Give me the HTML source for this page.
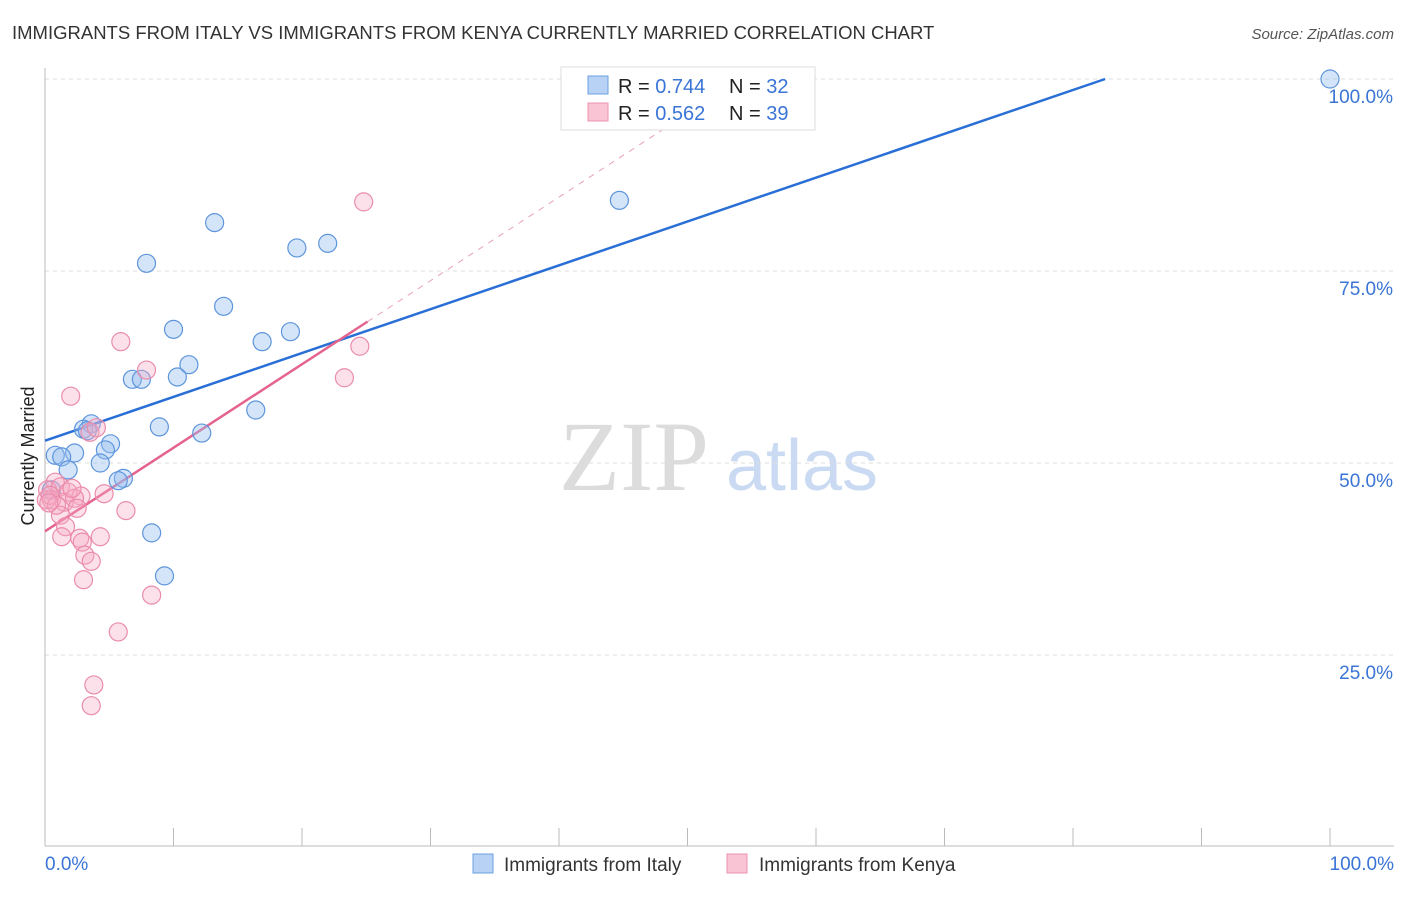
<!DOCTYPE html>
<html><head><meta charset="utf-8"><style>
body{margin:0;background:#fff;font-family:"Liberation Sans",sans-serif;}
</style></head><body>
<svg id="chart" width="1406" height="892" font-family="Liberation Sans, sans-serif">
<text x="12" y="39" font-size="18.5" fill="#333">IMMIGRANTS FROM ITALY VS IMMIGRANTS FROM KENYA CURRENTLY MARRIED CORRELATION CHART</text>
<text x="1394" y="39" font-size="15" fill="#555" font-style="italic" text-anchor="end">Source: ZipAtlas.com</text>
<text x="34" y="456" font-size="18" fill="#222" text-anchor="middle" transform="rotate(-90 34 456)">Currently Married</text>
<g>
<text x="634" y="490" font-size="100" fill="#dcdcdc" style="font-family:'Liberation Serif',serif" text-anchor="middle">ZIP</text>
<text x="802" y="490" font-size="72" fill="#c9daf2" text-anchor="middle">atlas</text>
</g>
<g id="grid"></g><g id="axes"></g><g id="lines"></g><g id="pts"></g>
<g>
<rect x="561" y="67" width="254" height="63" fill="#fff" stroke="#ddd"/>
<rect x="588" y="76" width="20" height="18" fill="#b7d2f5" stroke="#6b9fde"/>
<rect x="588" y="103" width="20" height="18" fill="#f9c5d4" stroke="#ec92b0"/>
<text x="618" y="93" font-size="20" fill="#222">R = <tspan fill="#3a74d6">0.744</tspan></text>
<text x="729" y="93" font-size="20" fill="#222">N = <tspan fill="#3a74d6">32</tspan></text>
<text x="618" y="120" font-size="20" fill="#222">R = <tspan fill="#3a74d6">0.562</tspan></text>
<text x="729" y="120" font-size="20" fill="#222">N = <tspan fill="#3a74d6">39</tspan></text>
</g>
<g>
<rect x="473" y="854" width="20" height="19" fill="#b7d2f5" stroke="#6b9fde"/>
<text x="504" y="871" font-size="19" fill="#333">Immigrants from Italy</text>
<rect x="727" y="854" width="20" height="19" fill="#f9c5d4" stroke="#ec92b0"/>
<text x="759" y="871" font-size="19" fill="#333">Immigrants from Kenya</text>
</g>
</svg>
<script>
const blueX=[100,44.7,13.2,22.0,19.6,7.9,13.9,10.0,19.1,16.9,11.2,10.3,6.8,7.5,16.4,3.6,3.0,8.9,3.3,12.2,5.1,4.7,2.3,0.8,1.3,4.3,1.8,6.1,5.7,8.3,9.3,0.5];
const blueY=[100,84.2,81.3,78.6,78.0,76.0,70.4,67.4,67.1,65.8,62.8,61.2,60.9,60.9,56.9,55.1,54.4,54.7,54.2,53.9,52.5,51.7,51.3,51.0,50.8,50.0,49.1,48.0,47.7,40.9,35.3,46.5];
const pinkX=[24.8,24.5,5.9,7.9,23.3,2.0,3.5,4.0,0.8,0.2,1.2,1.8,2.8,0.5,0.1,1.5,2.3,2.5,1.2,6.3,1.6,1.3,2.7,4.3,2.9,3.1,3.6,3.0,8.3,5.7,3.8,3.6,0.4,0.9,2.1,4.6,0.3];
const pinkY=[84.0,65.2,65.8,62.1,61.1,58.7,54.0,54.6,47.5,46.5,46.9,46.2,45.7,45.2,45.2,44.9,45.4,44.1,43.2,43.8,41.7,40.4,40.2,40.4,39.7,38.0,37.2,34.8,32.8,28.0,21.1,18.4,45.8,44.5,46.7,46.0,44.8];
const blueTrend=[52.9,0.5709];   // intercept, slope
const pinkTrend=[41.1,1.088];
const yTicks=[25,50,75,100];
const yTickLabels=["25.0%","50.0%","75.0%","100.0%"];
const xTickCount=10;
const X=v=>45+v*12.85, Y=v=>847-v*7.68;
const NS="http://www.w3.org/2000/svg";
function mk(tag,attrs,parent){const e=document.createElementNS(NS,tag);for(const k in attrs)e.setAttribute(k,attrs[k]);document.getElementById(parent).appendChild(e);return e;}
yTicks.forEach((t,i)=>{
 const g=mk('line',{x1:45,x2:1394,y1:Y(t),y2:Y(t),stroke:'#ddd','stroke-dasharray':'4,4'},'grid');
 
 
 const l=mk('text',{x:1393,y:Y(t)+24,'font-size':19,fill:'#3a74d6','text-anchor':'end'},'grid');
 l.textContent=yTickLabels[i];
 
 
});
mk('line',{x1:45,x2:45,y1:68,y2:846,stroke:'#bbb'},'axes');
const xa=mk('line',{x1:45,x2:1394,y1:846,y2:846,stroke:'#bbb'},'axes');


for(let i=0;i<=xTickCount;i++){mk('line',{x1:X(i*10),x2:X(i*10),y1:828,y2:846,stroke:'#bbb'},'axes');}
let a=mk('text',{x:45,y:870,'font-size':19,fill:'#3a74d6'},'axes');a.textContent='0.0%';


a=mk('text',{x:1394,y:870,'font-size':19,fill:'#3a74d6','text-anchor':'end'},'axes');a.textContent='100.0%';


let bx2=(100-blueTrend[0])/blueTrend[1];
let L=mk('line',{x1:X(0),y1:Y(blueTrend[0]),x2:X(bx2),y2:Y(100),stroke:'#2a6fd6','stroke-width':2.5},'lines');


let px2=25.1;
L=mk('line',{x1:X(px2),y1:Y(pinkTrend[0]+pinkTrend[1]*px2),x2:X((100-pinkTrend[0])/pinkTrend[1]),y2:Y(100),stroke:'#e8a0b8','stroke-width':1,'stroke-dasharray':'6,6'},'lines');


L=mk('line',{x1:X(0),y1:Y(pinkTrend[0]),x2:X(px2),y2:Y(pinkTrend[0]+pinkTrend[1]*px2),stroke:'#e4648e','stroke-width':2.5},'lines');


blueX.forEach((v,i)=>{const c=mk('circle',{cx:X(v),cy:Y(blueY[i]),r:9,fill:'rgba(150,190,240,0.4)',stroke:'#5d95dc','stroke-width':1.2},'pts');
 
 });
pinkX.forEach((v,i)=>{const c=mk('circle',{cx:X(v),cy:Y(pinkY[i]),r:9,fill:'rgba(245,170,195,0.35)',stroke:'#ea8cab','stroke-width':1.2},'pts');
 
 });
</script>
</body></html>
